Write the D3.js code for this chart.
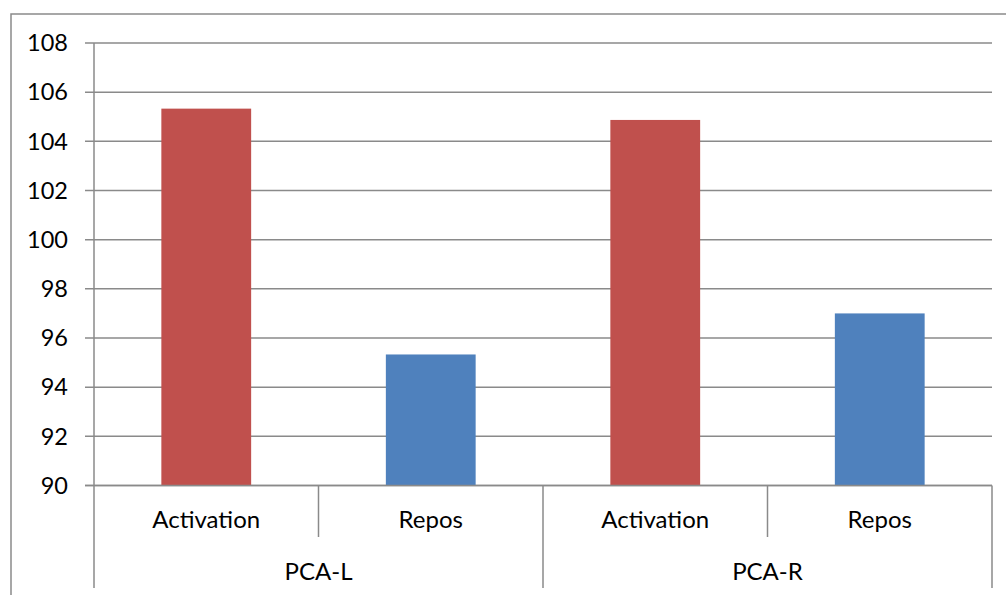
<!DOCTYPE html>
<html>
<head>
<meta charset="utf-8">
<script src="https://cdn.jsdelivr.net/npm/d3@7"></script>
<style>
  html, body { margin: 0; padding: 0; background: #fff; }
  svg { display: block; }
  text { font-family: Lato, "Open Sans", sans-serif; fill: #000; }
</style>
</head>
<body>
<svg id="chart" width="1006" height="595"></svg>
<script>
// Sub-categories (one bar each) and their parent groups
const groups = ["PCA-L", "PCA-R"];
const conditions = ["Activation", "Repos"];
const barGroup = ["PCA-L", "PCA-L", "PCA-R", "PCA-R"];
const barCondition = ["Activation", "Repos", "Activation", "Repos"];
const barValues = [105.33, 95.33, 104.87, 97.0];
const yTicks = [90, 92, 94, 96, 98, 100, 102, 104, 106, 108];

const colors = { "Activation": "#C0504D", "Repos": "#4F81BD" };
const gridColor = "#8a8a8a";

const svg = d3.select("#chart");

const plot = { left: 94, right: 992, top: 43, bottom: 485.5 };
const bottomEdge = 588;
const innerDividerEnd = 537;

const keys = barGroup.map((g, i) => g + "|" + barCondition[i]);

const x = d3.scaleBand().domain(keys).range([plot.left, plot.right]).padding(0);
const y = d3.scaleLinear().domain([90, 108]).range([plot.bottom, plot.top]);

const barW = x.bandwidth() * 0.4;

// Outer frame (top and left edges)
svg.append("path")
  .attr("d", "M11,595 V14 H1006")
  .attr("fill", "none")
  .attr("stroke", gridColor)
  .attr("stroke-width", 1.5);

// Horizontal gridlines with tick marks to the left of the axis
svg.append("g").selectAll("line")
  .data(yTicks)
  .join("line")
  .attr("x1", plot.left - 9)
  .attr("x2", plot.right)
  .attr("y1", d => y(d))
  .attr("y2", d => y(d))
  .attr("stroke", gridColor)
  .attr("stroke-width", 1.5);

// Y tick labels
svg.append("g").selectAll("text")
  .data(yTicks)
  .join("text")
  .attr("x", 68)
  .attr("y", d => y(d))
  .attr("dy", "0.35em")
  .attr("text-anchor", "end")
  .attr("font-size", 23.5)
  .text(d => d);

// Bars
svg.append("g").selectAll("rect")
  .data(barValues)
  .join("rect")
  .attr("x", (d, i) => x(keys[i]) + (x.bandwidth() - barW) / 2)
  .attr("width", barW)
  .attr("y", d => y(d))
  .attr("height", d => y(90) - y(d))
  .attr("fill", (d, i) => colors[barCondition[i]]);

// Y axis line, continuing down as the left edge of the category table
svg.append("line")
  .attr("x1", plot.left).attr("x2", plot.left)
  .attr("y1", plot.top).attr("y2", bottomEdge)
  .attr("stroke", gridColor).attr("stroke-width", 1.5);

// X axis line
svg.append("line")
  .attr("x1", plot.left - 9).attr("x2", plot.right)
  .attr("y1", y(90)).attr("y2", y(90))
  .attr("stroke", gridColor).attr("stroke-width", 1.5);

// Category dividers: short between conditions, long between groups
const dividers = keys.map((k, i) => {
  const xr = x(k) + x.bandwidth();
  const isGroupEnd = i === keys.length - 1 || barGroup[i] !== barGroup[i + 1];
  return { x: xr, end: isGroupEnd ? bottomEdge : innerDividerEnd };
});
svg.append("g").selectAll("line")
  .data(dividers)
  .join("line")
  .attr("x1", d => d.x).attr("x2", d => d.x)
  .attr("y1", y(90)).attr("y2", d => d.end)
  .attr("stroke", gridColor).attr("stroke-width", 1.5);

// Condition labels
svg.append("g").selectAll("text")
  .data(keys)
  .join("text")
  .attr("x", d => x(d) + x.bandwidth() / 2)
  .attr("y", 528)
  .attr("text-anchor", "middle")
  .attr("font-size", 24)
  .text((d, i) => barCondition[i]);

// Group labels
svg.append("g").selectAll("text")
  .data(groups)
  .join("text")
  .attr("x", g => {
    const ks = keys.filter((k, i) => barGroup[i] === g);
    return (x(ks[0]) + x(ks[ks.length - 1]) + x.bandwidth()) / 2;
  })
  .attr("y", 580)
  .attr("text-anchor", "middle")
  .attr("font-size", 24)
  .text(g => g);
</script>
</body>
</html>
